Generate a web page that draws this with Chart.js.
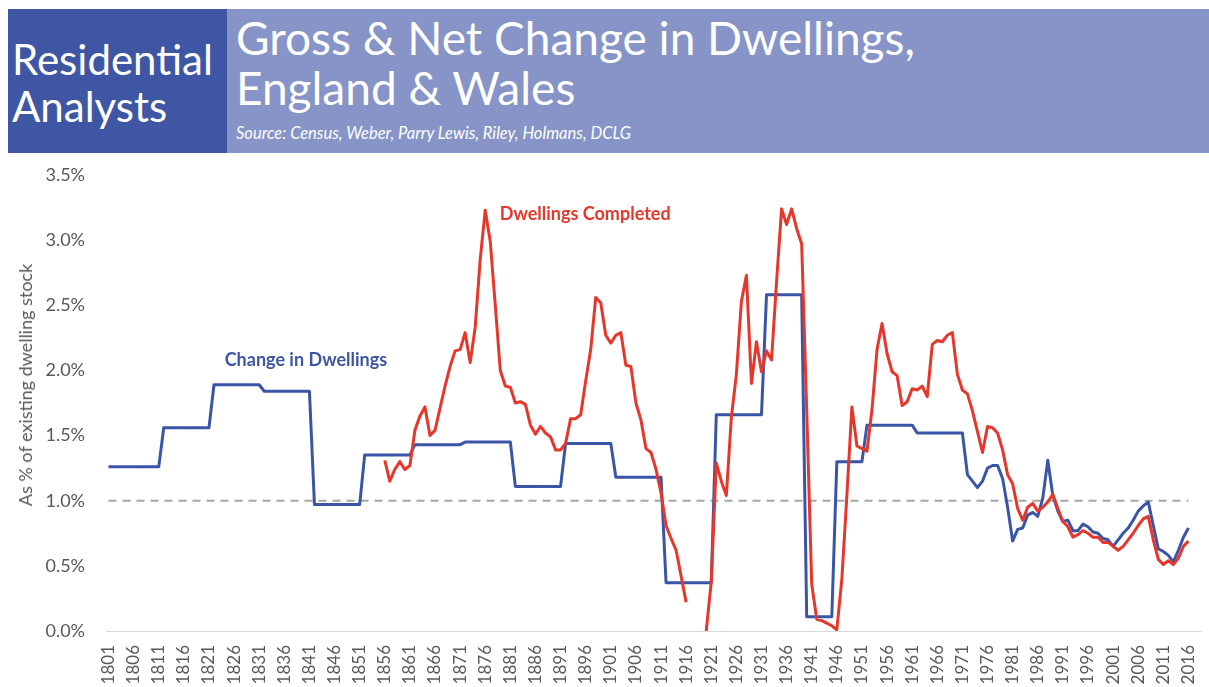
<!DOCTYPE html>
<html>
<head>
<meta charset="utf-8">
<script src="https://cdn.jsdelivr.net/npm/chart.js@4.4.1/dist/chart.umd.min.js"></script>
<style>
  html, body { margin: 0; padding: 0; background: #fff; }
  #wrap { position: relative; width: 1209px; height: 687px; overflow: hidden; font-family: Lato, "Open Sans", sans-serif; }
  #chart { position: absolute; left: 0; top: 0; }
  .band { position: absolute; top: 9px; height: 144px; }
  .txt { position: absolute; color: #fff; white-space: nowrap; line-height: 1; }
  #ytitle { position: absolute; left: 25px; top: 385px; transform: translate(-50%, -50%) rotate(-90deg);
            color: #595959; font-size: 18px; line-height: 1; white-space: nowrap; }
</style>
</head>
<body>
<div id="wrap">
  <canvas id="chart" width="1209" height="687"></canvas>
  <div class="band" style="left:8px; width:1201px; background:#8694c8;"></div>
  <div class="band" style="left:8px; width:219px; background:#3e56a3;"></div>
  <div class="txt" style="left:12px; top:38px; font-size:42px;">Residential</div>
  <div class="txt" style="left:12px; top:85px; font-size:42px;">Analysts</div>
  <div class="txt" style="left:236px; top:15px; font-size:46px;">Gross &amp; Net Change in Dwellings,</div>
  <div class="txt" style="left:236px; top:65px; font-size:46px;">England &amp; Wales</div>
  <div class="txt" style="left:236px; top:125px; font-size:16.5px; font-style:italic;">Source: Census, Weber, Parry Lewis, Riley, Holmans, DCLG</div>
  <div id="ytitle">As % of existing dwelling stock</div>
</div>
<script>
// categorias: anos 1801-2018 (dados até 2016)
const firstYear = 1801;
const lastYear = 2018;
const years = [];
for (let y = firstYear; y <= lastYear; y++) years.push(y);

// Change in Dwellings (% do estoque), 1801-2016
const changeInDwellings = [
  1.26, 1.26, 1.26, 1.26, 1.26, 1.26, 1.26, 1.26, 1.26, 1.26, 1.26,       // 1801-1811
  1.56, 1.56, 1.56, 1.56, 1.56, 1.56, 1.56, 1.56, 1.56, 1.56,             // 1812-1821
  1.89, 1.89, 1.89, 1.89, 1.89, 1.89, 1.89, 1.89, 1.89, 1.89,             // 1822-1831
  1.84, 1.84, 1.84, 1.84, 1.84, 1.84, 1.84, 1.84, 1.84, 1.84,             // 1832-1841
  0.97, 0.97, 0.97, 0.97, 0.97, 0.97, 0.97, 0.97, 0.97, 0.97,             // 1842-1851
  1.35, 1.35, 1.35, 1.35, 1.35, 1.35, 1.35, 1.35, 1.35, 1.35,             // 1852-1861
  1.43, 1.43, 1.43, 1.43, 1.43, 1.43, 1.43, 1.43, 1.43, 1.43,             // 1862-1871
  1.45, 1.45, 1.45, 1.45, 1.45, 1.45, 1.45, 1.45, 1.45, 1.45,             // 1872-1881
  1.11, 1.11, 1.11, 1.11, 1.11, 1.11, 1.11, 1.11, 1.11, 1.11,             // 1882-1891
  1.44, 1.44, 1.44, 1.44, 1.44, 1.44, 1.44, 1.44, 1.44, 1.44,             // 1892-1901
  1.18, 1.18, 1.18, 1.18, 1.18, 1.18, 1.18, 1.18, 1.18, 1.18,             // 1902-1911
  0.37, 0.37, 0.37, 0.37, 0.37, 0.37, 0.37, 0.37, 0.37, 0.37,             // 1912-1921
  1.66, 1.66, 1.66, 1.66, 1.66, 1.66, 1.66, 1.66, 1.66, 1.66,             // 1922-1931
  2.58, 2.58, 2.58, 2.58, 2.58, 2.58, 2.58, 2.58,                         // 1932-1939
  0.11, 0.11, 0.11, 0.11, 0.11, 0.11,                                     // 1940-1945
  1.30, 1.30, 1.30, 1.30, 1.30, 1.30,                                     // 1946-1951
  1.58, 1.58, 1.58, 1.58, 1.58, 1.58, 1.58, 1.58, 1.58, 1.58,             // 1952-1961
  1.52, 1.52, 1.52, 1.52, 1.52, 1.52, 1.52, 1.52, 1.52, 1.52,             // 1962-1971
  1.20, 1.15, 1.10, 1.15, 1.25, 1.27, 1.27, 1.17, 0.95, 0.69,             // 1972-1981
  0.78, 0.79, 0.89, 0.91, 0.88, 1.02, 1.31, 1.04, 0.92, 0.84,             // 1982-1991
  0.85, 0.77, 0.77, 0.82, 0.80, 0.76, 0.75, 0.71, 0.70, 0.65,             // 1992-2001
  0.70, 0.75, 0.79, 0.85, 0.92, 0.96, 0.99, 0.81, 0.63, 0.61,             // 2002-2011
  0.58, 0.53, 0.62, 0.72, 0.79                                            // 2012-2016
];

// Dwellings Completed (% do estoque), a partir de 1856 (sem dados 1917-1919)
const completedFrom = 1856;
const dwellingsCompleted = [
  1.31, 1.15, 1.24, 1.30, 1.24, 1.27, 1.54, 1.65, 1.72, 1.50,             // 1856-1865
  1.54, 1.71, 1.88, 2.03, 2.15, 2.16, 2.29, 2.06, 2.33, 2.85,             // 1866-1875
  3.23, 2.99, 2.50, 2.00, 1.88, 1.87, 1.75, 1.76, 1.74, 1.58,             // 1876-1885
  1.51, 1.57, 1.52, 1.49, 1.39, 1.39, 1.44, 1.63, 1.63, 1.66,             // 1886-1895
  1.92, 2.16, 2.56, 2.52, 2.27, 2.21, 2.27, 2.29, 2.04, 2.03,             // 1896-1905
  1.75, 1.62, 1.40, 1.37, 1.24, 1.06, 0.81, 0.71, 0.62, 0.42,             // 1906-1915
  0.22, null, null, null,                                                 // 1916-1919
  0.00, 0.38, 1.29, 1.15, 1.04, 1.64, 1.97, 2.53, 2.73, 1.90,             // 1920-1929
  2.22, 1.99, 2.15, 2.08, 2.68, 3.24, 3.12, 3.24, 3.09, 2.97,             // 1930-1939
  1.70, 0.36, 0.09, 0.08, 0.06, 0.04, 0.01, 0.40, 1.04, 1.72,             // 1940-1949
  1.42, 1.40, 1.38, 1.70, 2.16, 2.36, 2.13, 1.99, 1.96, 1.73,             // 1950-1959
  1.76, 1.86, 1.85, 1.88, 1.80, 2.20, 2.23, 2.22, 2.27, 2.29,             // 1960-1969
  1.97, 1.85, 1.82, 1.69, 1.53, 1.37, 1.57, 1.56, 1.52, 1.39,             // 1970-1979
  1.20, 1.13, 0.94, 0.85, 0.95, 0.98, 0.92, 0.95, 0.99, 1.05,             // 1980-1989
  0.94, 0.84, 0.80, 0.72, 0.74, 0.77, 0.75, 0.72, 0.72, 0.68,             // 1990-1999
  0.68, 0.65, 0.62, 0.65, 0.70, 0.75, 0.81, 0.86, 0.88, 0.70,             // 2000-2009
  0.55, 0.51, 0.54, 0.51, 0.56, 0.65, 0.69                                // 2010-2016
];

const yTicks = [0, 0.5, 1, 1.5, 2, 2.5, 3, 3.5];
const referenceLevel = 1.0;

// rótulos dentro do gráfico (ano, valor)
const seriesNotes = [
  { text: "Change in Dwellings", year: 1840.3, value: 2.08, color: "#3e56a3" },
  { text: "Dwellings Completed", year: 1895.9, value: 3.2, color: "#e5372b" },
];

const changeData = years.map((y) => changeInDwellings[y - firstYear] ?? null);
const completedData = years.map((y) => {
  const v = dwellingsCompleted[y - completedFrom];
  return v === undefined ? null : v;
});

// linha tracejada em 1.0%
const refLine = {
  id: "refLine",
  beforeDatasetsDraw(chart) {
    const { ctx, scales } = chart;
    const yPix = scales.y.getPixelForValue(referenceLevel);
    const x0 = scales.x.getPixelForValue(0);
    const x1 = scales.x.getPixelForValue(2016 - firstYear);
    ctx.save();
    ctx.strokeStyle = "#a6a6a6";
    ctx.lineWidth = 2;
    ctx.setLineDash([8, 6]);
    ctx.beginPath();
    ctx.moveTo(x0, yPix);
    ctx.lineTo(x1, yPix);
    ctx.stroke();
    ctx.restore();
  },
};

const notes = {
  id: "notes",
  afterDatasetsDraw(chart) {
    const { ctx, scales } = chart;
    ctx.save();
    ctx.font = "bold 18px Lato, 'Open Sans', sans-serif";
    ctx.textAlign = "center";
    ctx.textBaseline = "middle";
    seriesNotes.forEach((n) => {
      const xPix = scales.x.getPixelForValue(n.year - firstYear);
      const yPix = scales.y.getPixelForValue(n.value);
      ctx.fillStyle = n.color;
      ctx.fillText(n.text, xPix, yPix);
    });
    ctx.restore();
  },
};

Chart.defaults.font.family = "Lato, 'Open Sans', sans-serif";
Chart.defaults.color = "#595959";

const ctx = document.getElementById("chart").getContext("2d");
const myChart = new Chart(ctx, {
  type: "line",
  data: {
    labels: years.map(String),
    datasets: [
      {
        label: "Change in Dwellings",
        data: changeData,
        borderColor: "#3b55a6",
        borderWidth: 3,
        borderJoinStyle: "round",
        pointRadius: 0,
        tension: 0,
        order: 1,
      },
      {
        label: "Dwellings Completed",
        data: completedData,
        borderColor: "#e5372b",
        borderWidth: 3,
        borderJoinStyle: "round",
        pointRadius: 0,
        tension: 0,
        spanGaps: false,
        order: 0,
      },
    ],
  },
  options: {
    responsive: false,
    animation: false,
    layout: { padding: { top: 175, right: 8, left: 0, bottom: 0 } },
    plugins: {
      legend: { display: false },
      tooltip: { enabled: false },
    },
    scales: {
      x: {
        offset: true,
        grid: { display: false, drawTicks: false },
        border: { display: true, color: "#d9d9d9", width: 1 },
        ticks: {
          autoSkip: false,
          maxRotation: 90,
          minRotation: 90,
          padding: 14,
          color: "#595959",
          font: { size: 17 },
          callback: (v, i) => ((years[i] - firstYear) % 5 === 0 ? String(years[i]) : null),
        },
        afterFit: (s) => {
          s.height = 56;
          s.paddingLeft = 0;
          s.paddingRight = 0;
        },
      },
      y: {
        min: 0,
        max: 3.5,
        afterBuildTicks: (s) => { s.ticks = yTicks.map((v) => ({ value: v })); },
        grid: { display: false, drawTicks: false },
        border: { display: false },
        ticks: {
          padding: 21,
          color: "#595959",
          font: { size: 18 },
          callback: (v) => v.toFixed(1) + "%",
        },
        afterFit: (s) => {
          s.width = 106;
          s.paddingTop = 0;
        },
      },
    },
  },
  plugins: [refLine, notes],
});
</script>
</body>
</html>
